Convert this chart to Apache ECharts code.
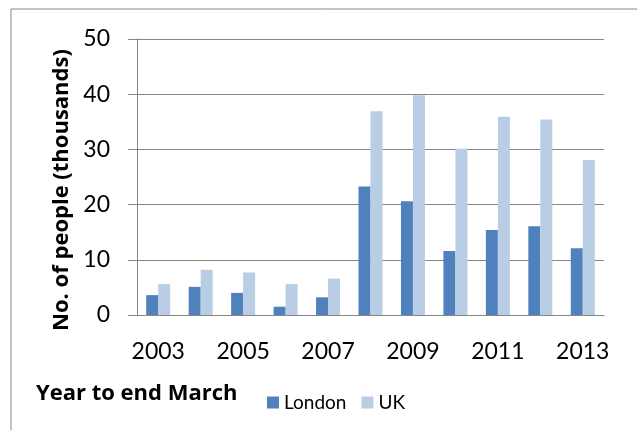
<!DOCTYPE html>
<html>
<head>
<meta charset="utf-8">
<script src="https://cdn.jsdelivr.net/npm/echarts@6/dist/echarts.min.js"></script>
<style>
  html, body { margin: 0; padding: 0; background: #fff; }
  #chart { width: 637px; height: 430px; }
</style>
</head>
<body>
<div id="chart"></div>
<script>
var years = ["2003", "2004", "2005", "2006", "2007", "2008", "2009", "2010", "2011", "2012", "2013"];
var london = [3.6, 5.1, 4.0, 1.5, 3.2, 23.3, 20.6, 11.6, 15.4, 16.1, 12.1];
var uk = [5.6, 8.2, 7.7, 5.6, 6.6, 36.9, 39.8, 30.1, 35.9, 35.4, 28.1];

var font = "Lato";
var gray = "#868686";

var myChart = echarts.init(document.getElementById("chart"));
myChart.setOption({
  animation: false,
  textStyle: { fontFamily: font },
  grid: { left: 137, top: 39, right: 33, bottom: 115 },
  graphic: [
    {
      type: "rect",
      shape: { x: 11, y: 9, width: 700, height: 500 },
      style: { fill: "none", stroke: gray, lineWidth: 1 }
    },
    {
      type: "text",
      x: 62,
      y: 190,
      rotation: Math.PI / 2,
      style: {
        text: "No. of people (thousands)",
        font: "bold 22px 'Open Sans'",
        fill: "#000",
        align: "center",
        verticalAlign: "middle"
      }
    },
    {
      type: "text",
      x: 36,
      y: 394,
      style: {
        text: "Year to end March",
        font: "bold 22px 'Open Sans'",
        fill: "#000",
        align: "left",
        verticalAlign: "middle"
      }
    }
  ],
  legend: {
    left: 267,
    top: 393,
    itemWidth: 12,
    itemHeight: 12,
    itemGap: 15,
    icon: "rect",
    textStyle: { fontSize: 19, color: "#000", fontFamily: font, padding: [0, 0, 0, 0] },
    padding: 0,
    data: ["London", "UK"]
  },
  xAxis: {
    type: "category",
    data: years,
    axisLine: { lineStyle: { color: gray, width: 1 } },
    axisTick: { interval: 0, length: 9, lineStyle: { color: gray } },
    axisLabel: { interval: 1, fontSize: 23, color: "#000", margin: 25 }
  },
  yAxis: {
    type: "value",
    min: 0,
    max: 50,
    interval: 10,
    axisLine: { show: true, lineStyle: { color: gray, width: 1 } },
    axisTick: { show: true, length: 9, lineStyle: { color: gray } },
    axisLabel: { fontSize: 23, color: "#000", margin: 27 },
    splitLine: { lineStyle: { color: gray, width: 1 } }
  },
  series: [
    {
      name: "London",
      type: "bar",
      data: london,
      barWidth: 12,
      barGap: "0%",
      itemStyle: { color: "#4F81BD" }
    },
    {
      name: "UK",
      type: "bar",
      data: uk,
      barWidth: 12,
      barGap: "0%",
      itemStyle: { color: "#B9CDE5" }
    }
  ]
});
</script>
</body>
</html>
